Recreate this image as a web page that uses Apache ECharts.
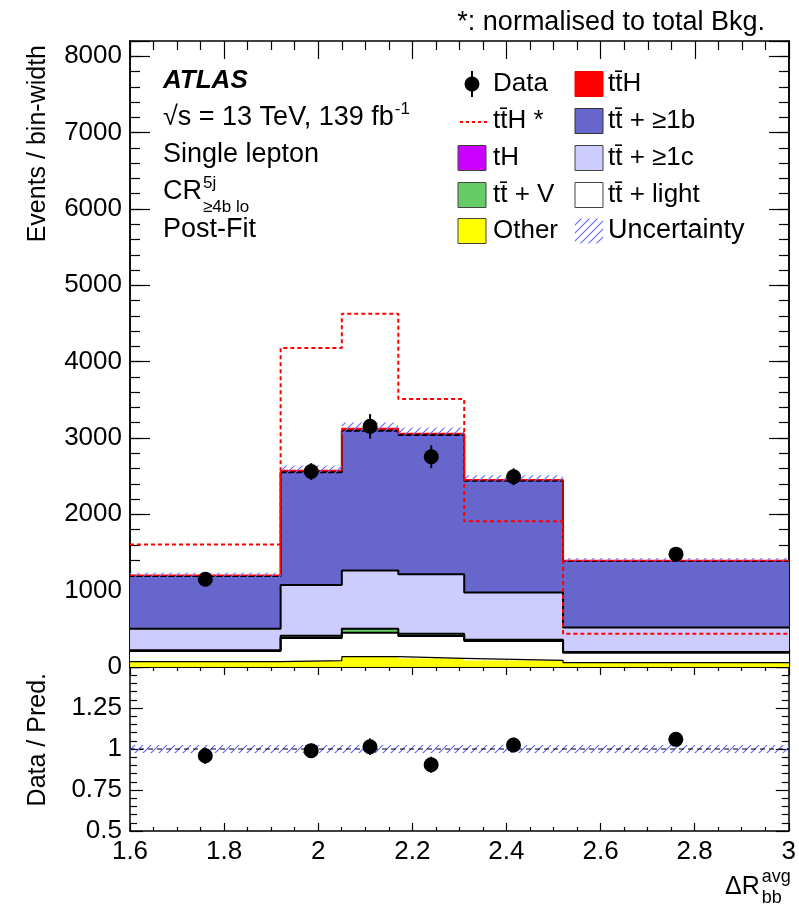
<!DOCTYPE html>
<html><head><meta charset="utf-8">
<script src="https://cdn.jsdelivr.net/npm/echarts@6/dist/echarts.min.js"></script>
<style>html,body{margin:0;padding:0;background:#fff}#c{width:799px;height:912px}</style>
</head><body><div id="c"></div>
<script>
// ---------------- data ----------------
const binEdges  = [1.6, 1.92, 2.05, 2.17, 2.31, 2.52, 3.0];
const other     = [70, 83, 135, 114, 88, 57];
const ttLight   = [140, 297, 315, 292, 253, 131];
const ttV       = [10, 30, 52, 31, 17, 8];
const tH        = [3, 5, 6, 5, 4, 2];
const ttC       = [279, 660, 755, 774, 613, 318];
const ttB       = [691, 1475, 1832, 1822, 1465, 874];
const ttH       = [10, 25, 30, 22, 12, 4];
const ttHNorm   = [1604, 4180, 4626, 3510, 1910, 435];
const dataVals  = [1150, 2560, 3152, 2754, 2492, 1478];
const dataErr   = [60, 110, 160, 150, 110, 55];
const relUnc    = [0.025, 0.025, 0.025, 0.025, 0.025, 0.025];
const ratioVals = [0.959, 0.990, 1.014, 0.904, 1.024, 1.059];
const ratioErr  = [0.05, 0.043, 0.05, 0.049, 0.045, 0.04];

const FONT = "'Liberation Sans', Arial, Helvetica, sans-serif";
const nB = dataVals.length;
const centers = binEdges.slice(0, nB).map((e, i) => (e + binEdges[i + 1]) / 2);

const mctx = document.createElement('canvas').getContext('2d');
function tw(s, font) { mctx.font = font; return mctx.measureText(s).width; }

function hatchCanvas() {
  const c = document.createElement('canvas');
  c.width = 8; c.height = 8;
  const g = c.getContext('2d');
  g.strokeStyle = '#6a6aff'; g.lineWidth = 1.2;
  g.beginPath();
  g.moveTo(0, 8); g.lineTo(8, 0);
  g.moveTo(-2, 2); g.lineTo(2, -2);
  g.moveTo(6, 10); g.lineTo(10, 6);
  g.stroke();
  return c;
}
const HATCH = { image: hatchCanvas(), repeat: 'repeat' };

function rectItem(fill) {
  return function (params, api) {
    const p0 = api.coord([api.value(0), api.value(3)]);
    const p1 = api.coord([api.value(1), api.value(2)]);
    const x0 = Math.round(p0[0]), x1 = Math.round(p1[0]);
    return { type: 'rect', shape: { x: x0, y: p0[1], width: x1 - x0, height: p1[1] - p0[1] }, style: { fill: fill } };
  };
}
function stepLine(vals, color, width, type, xi, yi, z) {
  return {
    type: 'line', step: 'end', symbol: 'none', silent: true, xAxisIndex: xi, yAxisIndex: yi, z: z,
    data: binEdges.map((e, i) => [e, vals[Math.min(i, nB - 1)]]),
    lineStyle: { color: color, width: width, type: type }
  };
}
function errItem(params, api) {
  const a = api.coord([api.value(0), api.value(1) - api.value(2)]);
  const b = api.coord([api.value(0), api.value(1) + api.value(2)]);
  return { type: 'line', shape: { x1: a[0], y1: a[1], x2: b[0], y2: b[1] }, style: { stroke: '#000', lineWidth: 2 } };
}

const layers = [
  { vals: other,   color: '#ffff00', outline: 1.2 },
  { vals: ttLight, color: '#ffffff', outline: 2 },
  { vals: ttV,     color: '#66cc66', outline: 2 },
  { vals: tH,      color: '#cc00ff', outline: 0 },
  { vals: ttC,     color: '#ccccff', outline: 2 },
  { vals: ttB,     color: '#6666cc', outline: 2 },
  { vals: ttH,     color: '#ff0000', outline: 0 }
];
const series = [];
let cum = new Array(nB).fill(0);
layers.forEach(L => {
  const lo = cum.slice();
  const hi = cum.map((c, i) => c + L.vals[i]);
  cum = hi;
  series.push({ type: 'custom', silent: true, xAxisIndex: 0, yAxisIndex: 0, z: 1, renderItem: rectItem(L.color),
    encode: { x: [0, 1], y: [2, 3] }, data: hi.map((h, i) => [binEdges[i], binEdges[i + 1], lo[i], h]) });
  if (L.outline) series.push(stepLine(hi, '#000', L.outline, 'solid', 0, 0, 2));
});
const total = cum;
series.push(stepLine(total, '#ff0000', 1.5, 'solid', 0, 0, 2));
// uncertainty band (top)
series.push({ type: 'custom', silent: true, xAxisIndex: 0, yAxisIndex: 0, z: 3, renderItem: rectItem(HATCH),
  encode: { x: [0, 1], y: [2, 3] },
  data: total.map((t, i) => [binEdges[i], binEdges[i + 1], t * (1 - relUnc[i]), t * (1 + relUnc[i])]) });
// normalised ttH
series.push(stepLine(ttHNorm, '#ff0000', 2, [4, 3], 0, 0, 4));
// data
series.push({ type: 'custom', silent: true, xAxisIndex: 0, yAxisIndex: 0, z: 5, renderItem: errItem,
  encode: { x: 0, y: 1 }, data: centers.map((c, i) => [c, dataVals[i], dataErr[i]]) });
series.push({ type: 'scatter', silent: true, xAxisIndex: 0, yAxisIndex: 0, z: 6, symbol: 'circle', symbolSize: 15,
  itemStyle: { color: '#000', opacity: 1 }, data: centers.map((c, i) => [c, dataVals[i]]) });

// ratio panel
series.push({ type: 'custom', silent: true, xAxisIndex: 2, yAxisIndex: 4, z: 3, renderItem: rectItem(HATCH),
  encode: { x: [0, 1], y: [2, 3] },
  data: relUnc.map((u, i) => [binEdges[i], binEdges[i + 1], 1 - u, 1 + u]) });
series.push({ type: 'line', silent: true, symbol: 'none', xAxisIndex: 2, yAxisIndex: 4, z: 4,
  data: [[1.6, 1], [3.0, 1]], lineStyle: { color: '#000', width: 1.2, type: [5, 4] } });
series.push({ type: 'custom', silent: true, xAxisIndex: 2, yAxisIndex: 4, z: 5, renderItem: errItem,
  encode: { x: 0, y: 1 }, data: centers.map((c, i) => [c, ratioVals[i], ratioErr[i]]) });
series.push({ type: 'scatter', silent: true, xAxisIndex: 2, yAxisIndex: 4, z: 6, symbol: 'circle', symbolSize: 15,
  itemStyle: { color: '#000', opacity: 1 }, data: centers.map((c, i) => [c, ratioVals[i]]) });

// ---------------- axes ----------------
const AXL = { show: true, onZero: false, lineStyle: { color: '#000', width: 1.5 } };
function xAx(grid, pos, showLabel, maj, min) {
  return {
    type: 'value', gridIndex: grid, position: pos, min: 1.6, max: 3.0, interval: 0.2,
    axisLine: AXL, splitLine: { show: false },
    axisTick: { show: true, inside: true, length: maj, lineStyle: { color: '#000', width: 1.2 } },
    minorTick: { show: true, splitNumber: 4, length: min, lineStyle: { color: '#000', width: 1.2 } },
    axisLabel: { show: showLabel, color: '#000', fontFamily: FONT, fontSize: 26, margin: 8,
      formatter: v => (+v.toFixed(2)).toString() }
  };
}
function yAx(grid, pos, min, max, interval, showLabel, len, fmt, minor) {
  const a = {
    type: 'value', gridIndex: grid, position: pos, min: min, max: max, interval: interval,
    axisLine: AXL, splitLine: { show: false },
    axisTick: { show: true, inside: true, length: len, lineStyle: { color: '#000', width: 1.2 } },
    axisLabel: { show: showLabel, color: '#000', fontFamily: FONT, fontSize: 26, margin: 8, formatter: fmt }
  };
  if (minor) a.minorTick = { show: true, splitNumber: minor.n, length: minor.len, lineStyle: { color: '#000', width: 1.2 } };
  return a;
}
const topFmt = v => (v > 8000 ? '' : String(v));
const ratFmt = v => (v > 1.4 ? '' : String(+v.toFixed(2)));

const option = {
  animation: false,
  backgroundColor: '#fff',
  grid: [
    { left: 130, top: 41, width: 659, height: 626 },
    { left: 130, top: 667, width: 659, height: 164 }
  ],
  xAxis: [
    xAx(0, 'bottom', false, 18, 9),
    xAx(0, 'top', false, 18, 9),
    xAx(1, 'bottom', true, 8, 4),
    xAx(1, 'top', false, 8, 4)
  ],
  yAxis: [
    yAx(0, 'left', 0, 8200, 1000, true, 20, topFmt),
    yAx(0, 'left', 0, 8200, 200, false, 10, topFmt),
    yAx(0, 'right', 0, 8200, 1000, false, 20, topFmt),
    yAx(0, 'right', 0, 8200, 200, false, 10, topFmt),
    yAx(1, 'left', 0.5, 1.5, 0.25, true, 13, ratFmt, { n: 5, len: 7 }),
    yAx(1, 'right', 0.5, 1.5, 0.25, false, 13, ratFmt, { n: 5, len: 7 })
  ],
  series: series,
  graphic: []
};

// ---------------- texts & legend ----------------
const G = option.graphic;
function txt(x, y, s, size, extra) {
  G.push(Object.assign({ type: 'text', x: x, y: y, silent: true, z: 100,
    style: Object.assign({ text: s, fill: '#000', font: size + 'px ' + FONT, textAlign: 'left', textVerticalAlign: 'middle' }, extra || {}) }));
}
txt(765, 23, '*: normalised to total Bkg.', 27, { textAlign: 'right' });
G.push({ type: 'text', x: 38, y: 45, rotation: Math.PI / 2, silent: true, z: 100,
  style: { text: 'Events / bin-width', fill: '#000', font: '25px ' + FONT, textAlign: 'right', textVerticalAlign: 'middle' } });
G.push({ type: 'text', x: 38, y: 673, rotation: Math.PI / 2, silent: true, z: 100,
  style: { text: 'Data / Pred.', fill: '#000', font: '25px ' + FONT, textAlign: 'right', textVerticalAlign: 'middle' } });
// x title
const dR = '\u0394R';
txt(725, 887, dR, 25);
const dRw = tw(dR, '25px ' + FONT);
txt(727 + dRw, 877, 'avg', 18);
txt(727 + dRw, 898, 'bb', 18);
// left block
G.push({ type: 'text', x: 163, y: 81, silent: true, z: 100,
  style: { text: 'ATLAS', fill: '#000', font: 'italic bold 26px ' + FONT, textAlign: 'left', textVerticalAlign: 'middle' } });
const sq = '\u221As = 13 TeV, 139 fb';
txt(163, 118, sq, 27);
txt(164 + tw(sq, '27px ' + FONT), 109, '-1', 17);
txt(163, 155, 'Single lepton', 27);
txt(163, 192, 'CR', 27);
const crw = tw('CR', '27px ' + FONT);
txt(164 + crw, 183, '5j', 17);
txt(164 + crw, 207, '\u22654b lo', 17);
txt(163, 230, 'Post-Fit', 27);

// legend
const tb = 't\u0304';
const rows = [84, 121, 158, 195, 231];
// column 1
G.push({ type: 'line', silent: true, z: 100, shape: { x1: 472, y1: 71, x2: 472, y2: 97 }, style: { stroke: '#000', lineWidth: 2 } });
G.push({ type: 'circle', silent: true, z: 100, shape: { cx: 472, cy: rows[0], r: 7.5 }, style: { fill: '#000' } });
txt(493, rows[0], 'Data', 26);
G.push({ type: 'line', silent: true, z: 100, shape: { x1: 460, y1: rows[1] + 1, x2: 487, y2: rows[1] + 1 }, style: { stroke: '#ff0000', lineWidth: 2, lineDash: [3, 3] } });
txt(493, rows[1], 't' + tb + 'H *', 26);
function box(x, y, fill, stroke) {
  G.push({ type: 'rect', silent: true, z: 100, shape: { x: x, y: y - 12.5, width: 28, height: 25 },
    style: { fill: fill, stroke: stroke, lineWidth: stroke ? 1 : 0 } });
}
box(458, rows[2], '#cc00ff', '#444');
txt(493, rows[2], 'tH', 26);
box(458, rows[3], '#66cc66', '#444');
txt(493, rows[3], 't' + tb + ' + V', 26);
box(458, rows[4], '#ffff00', '#444');
txt(493, rows[4], 'Other', 26);
// column 2
box(575, rows[0], '#ff0000', '#ee0000');
txt(608, rows[0], 't' + tb + 'H', 26);
box(575, rows[1], '#6666cc', '#333');
txt(608, rows[1], 't' + tb + ' + \u22651b', 26);
box(575, rows[2], '#ccccff', '#444');
txt(608, rows[2], 't' + tb + ' + \u22651c', 26);
box(575, rows[3], '#ffffff', '#444');
txt(608, rows[3], 't' + tb + ' + light', 26);
G.push({ type: 'rect', silent: true, z: 100, shape: { x: 575, y: rows[4] - 12.5, width: 28, height: 25 }, style: { fill: HATCH } });
txt(608, rows[4], 'Uncertainty', 27);

const chart = echarts.init(document.getElementById('c'), null, { renderer: 'canvas' });
chart.setOption(option);
</script>
</body></html>
